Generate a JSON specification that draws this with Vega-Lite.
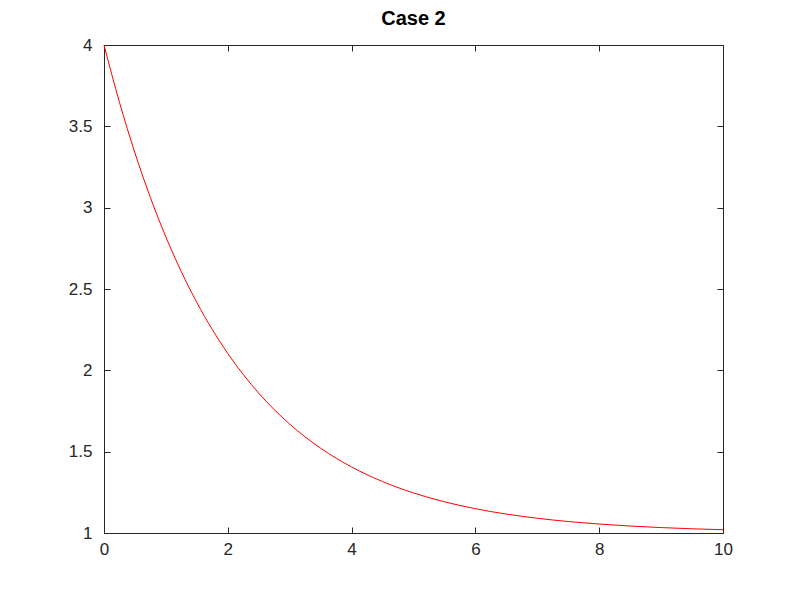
{
  "$schema": "https://vega.github.io/schema/vega-lite/v6.json",
  "autosize": "none",
  "width": 619,
  "height": 488,
  "padding": {"left": 104, "top": 45, "right": 77, "bottom": 67},
  "background": "white",
  "title": {
    "text": "Case 2",
    "font": "Liberation Sans",
    "fontSize": 20,
    "fontWeight": "bold",
    "color": "#000000",
    "offset": 7
  },
  "config": {
    "view": {"stroke": "#262626", "strokeWidth": 1},
    "axis": {
      "domainColor": "#262626",
      "tickColor": "#262626",
      "labelColor": "#262626",
      "labelFont": "Liberation Sans",
      "labelFontSize": 17,
      "labelFlush": false,
      "labelOverlap": false,
      "grid": false,
      "tickSize": -6,
      "title": null
    }
  },
  "data": {
    "values": [
      {"t": 0, "y": 4},
      {"t": 0.25, "y": 3.6475},
      {"t": 0.5, "y": 3.3364},
      {"t": 0.75, "y": 3.0619},
      {"t": 1, "y": 2.8196},
      {"t": 1.25, "y": 2.6058},
      {"t": 1.5, "y": 2.4171},
      {"t": 1.75, "y": 2.2506},
      {"t": 2, "y": 2.1036},
      {"t": 2.25, "y": 1.974},
      {"t": 2.5, "y": 1.8595},
      {"t": 2.75, "y": 1.7585},
      {"t": 3, "y": 1.6694},
      {"t": 3.25, "y": 1.5907},
      {"t": 3.5, "y": 1.5213},
      {"t": 3.75, "y": 1.4601},
      {"t": 4, "y": 1.406},
      {"t": 4.5, "y": 1.3162},
      {"t": 5, "y": 1.2463},
      {"t": 5.5, "y": 1.1918},
      {"t": 6, "y": 1.1494},
      {"t": 6.5, "y": 1.1163},
      {"t": 7, "y": 1.0906},
      {"t": 7.5, "y": 1.0706},
      {"t": 8, "y": 1.055},
      {"t": 8.5, "y": 1.0428},
      {"t": 9, "y": 1.0333},
      {"t": 9.5, "y": 1.026},
      {"t": 10, "y": 1.0202}
    ]
  },
  "layer": [
    {
      "mark": {"type": "line", "color": "#ff0000", "strokeWidth": 1, "interpolate": "monotone"},
      "encoding": {
        "x": {
          "field": "t", "type": "quantitative",
          "scale": {"domain": [0, 10], "nice": false},
          "axis": {"values": [0, 2, 4, 6, 8, 10], "format": "d", "labelPadding": 14}
        },
        "y": {
          "field": "y", "type": "quantitative",
          "scale": {"domain": [1, 4], "nice": false, "zero": false},
          "axis": {"values": [1, 1.5, 2, 2.5, 3, 3.5, 4], "format": "~g", "labelPadding": 18}
        }
      }
    },
    {
      "mark": {"type": "line", "opacity": 0},
      "encoding": {
        "x": {
          "field": "t", "type": "quantitative",
          "scale": {"domain": [0, 10], "nice": false},
          "axis": {"orient": "top", "values": [0, 2, 4, 6, 8, 10], "labels": false}
        },
        "y": {
          "field": "y", "type": "quantitative",
          "scale": {"domain": [1, 4], "nice": false, "zero": false},
          "axis": {"orient": "right", "values": [1, 1.5, 2, 2.5, 3, 3.5, 4], "labels": false}
        }
      }
    }
  ],
  "resolve": {"axis": {"x": "independent", "y": "independent"}}
}
